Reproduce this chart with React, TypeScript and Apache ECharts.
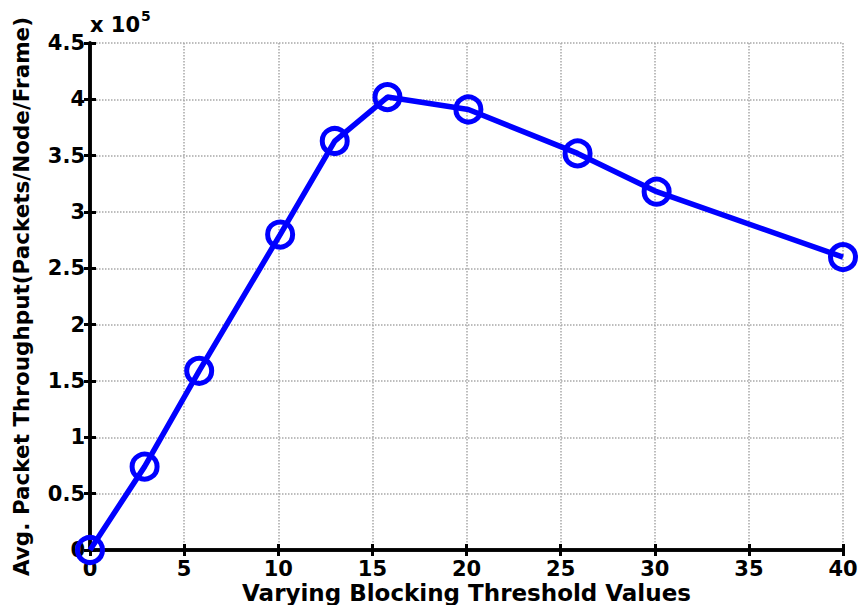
import React, { useEffect, useRef } from "react";
import * as echarts from "echarts";

// Blocking threshold values (x) and average packet throughput (y)
const thresholds: number[] = [0, 2.9, 5.8, 10.1, 13, 15.8, 20.1, 25.9, 30.1, 40];
const throughput: number[] = [0, 74000, 159000, 280000, 363000, 402000, 391000, 352000, 318000, 260000];

const xTicks: number[] = [0, 5, 10, 15, 20, 25, 30, 35, 40];
const yTickLabels: string[] = ["0", "0.5", "1", "1.5", "2", "2.5", "3", "3.5", "4", "4.5"];

const FONT = "'DejaVu Sans', Verdana, sans-serif";

export default function App() {
  const ref = useRef<HTMLDivElement>(null);

  useEffect(() => {
    if (!ref.current) return;
    const chart = echarts.init(ref.current, undefined, { renderer: "svg" });

    const axisLine = { show: true, lineStyle: { color: "#000", width: 3.5 } };
    const tickIn = { show: true, inside: true, length: 6, lineStyle: { color: "#000", width: 3 } };
    const gridLine = { show: true, lineStyle: { color: "#a8a8a8", type: "dotted" as const, width: 1.5 } };

    chart.setOption({
      animation: false,
      backgroundColor: "#fff",
      grid: { left: 90, right: 16, top: 43, bottom: 55, containLabel: false, outerBoundsMode: "none" },
      xAxis: [
        {
          type: "value",
          min: 0,
          max: 40,
          interval: 5,
          position: "bottom",
          axisLine,
          axisTick: tickIn,
          splitLine: gridLine,
          axisLabel: {
            color: "#000",
            fontFamily: FONT,
            fontWeight: "bold",
            fontSize: 21,
            lineHeight: 20,
            margin: 9,
            formatter: (v: number) => (xTicks.includes(v) ? String(v) : ""),
          },
          name: "Varying Blocking Threshold Values",
          nameLocation: "middle",
          nameMoveOverlap: false,
          nameGap: 32,
          nameTextStyle: { color: "#000", fontFamily: FONT, fontWeight: "bold", fontSize: 23, lineHeight: 22 },
        },
        {
          type: "value",
          min: 0,
          max: 40,
          interval: 5,
          position: "top",
          axisLine,
          axisTick: tickIn,
          splitLine: { show: false },
          axisLabel: { show: false },
        },
      ],
      yAxis: [
        {
          type: "value",
          min: 0,
          max: 450000,
          interval: 50000,
          position: "left",
          axisLine,
          axisTick: tickIn,
          splitLine: gridLine,
          axisLabel: {
            color: "#000",
            fontFamily: FONT,
            fontWeight: "bold",
            fontSize: 21,
            margin: 5,
            formatter: (v: number) => yTickLabels[Math.round(v / 50000)] ?? "",
          },
          name: "Avg. Packet Throughput(Packets/Node/Frame)",
          nameLocation: "middle",
          nameMoveOverlap: false,
          nameGap: 58,
          nameTextStyle: { color: "#000", fontFamily: FONT, fontWeight: "bold", fontSize: 21.5 },
        },
        {
          type: "value",
          min: 0,
          max: 450000,
          interval: 50000,
          position: "right",
          axisLine,
          axisTick: tickIn,
          splitLine: { show: false },
          axisLabel: { show: false },
        },
      ],
      graphic: [
        {
          type: "text",
          left: 90,
          top: 9,
          style: {
            text: "{b|x 10}{s|5}",
            rich: {
              b: { fontFamily: FONT, fontWeight: "bold", fontSize: 21, fill: "#000", verticalAlign: "bottom" },
              s: { fontFamily: FONT, fontWeight: "bold", fontSize: 14, fill: "#000", verticalAlign: "top", padding: [0, 0, 12, 1] },
            },
          },
        },
      ],
      series: [
        {
          type: "line",
          xAxisIndex: 0,
          yAxisIndex: 0,
          data: thresholds.map((x, i) => [x, throughput[i]]),
          clip: false,
          lineStyle: { color: "#0000ff", width: 5.5 },
          symbol: "circle",
          symbolSize: 25,
          itemStyle: { color: "rgba(0,0,0,0)", borderColor: "#0000ff", borderWidth: 5 },
          z: 5,
        },
      ],
    });

    return () => chart.dispose();
  }, []);

  return <div ref={ref} style={{ width: 859, height: 605, position: "absolute", left: 0, top: 0 }} />;
}
